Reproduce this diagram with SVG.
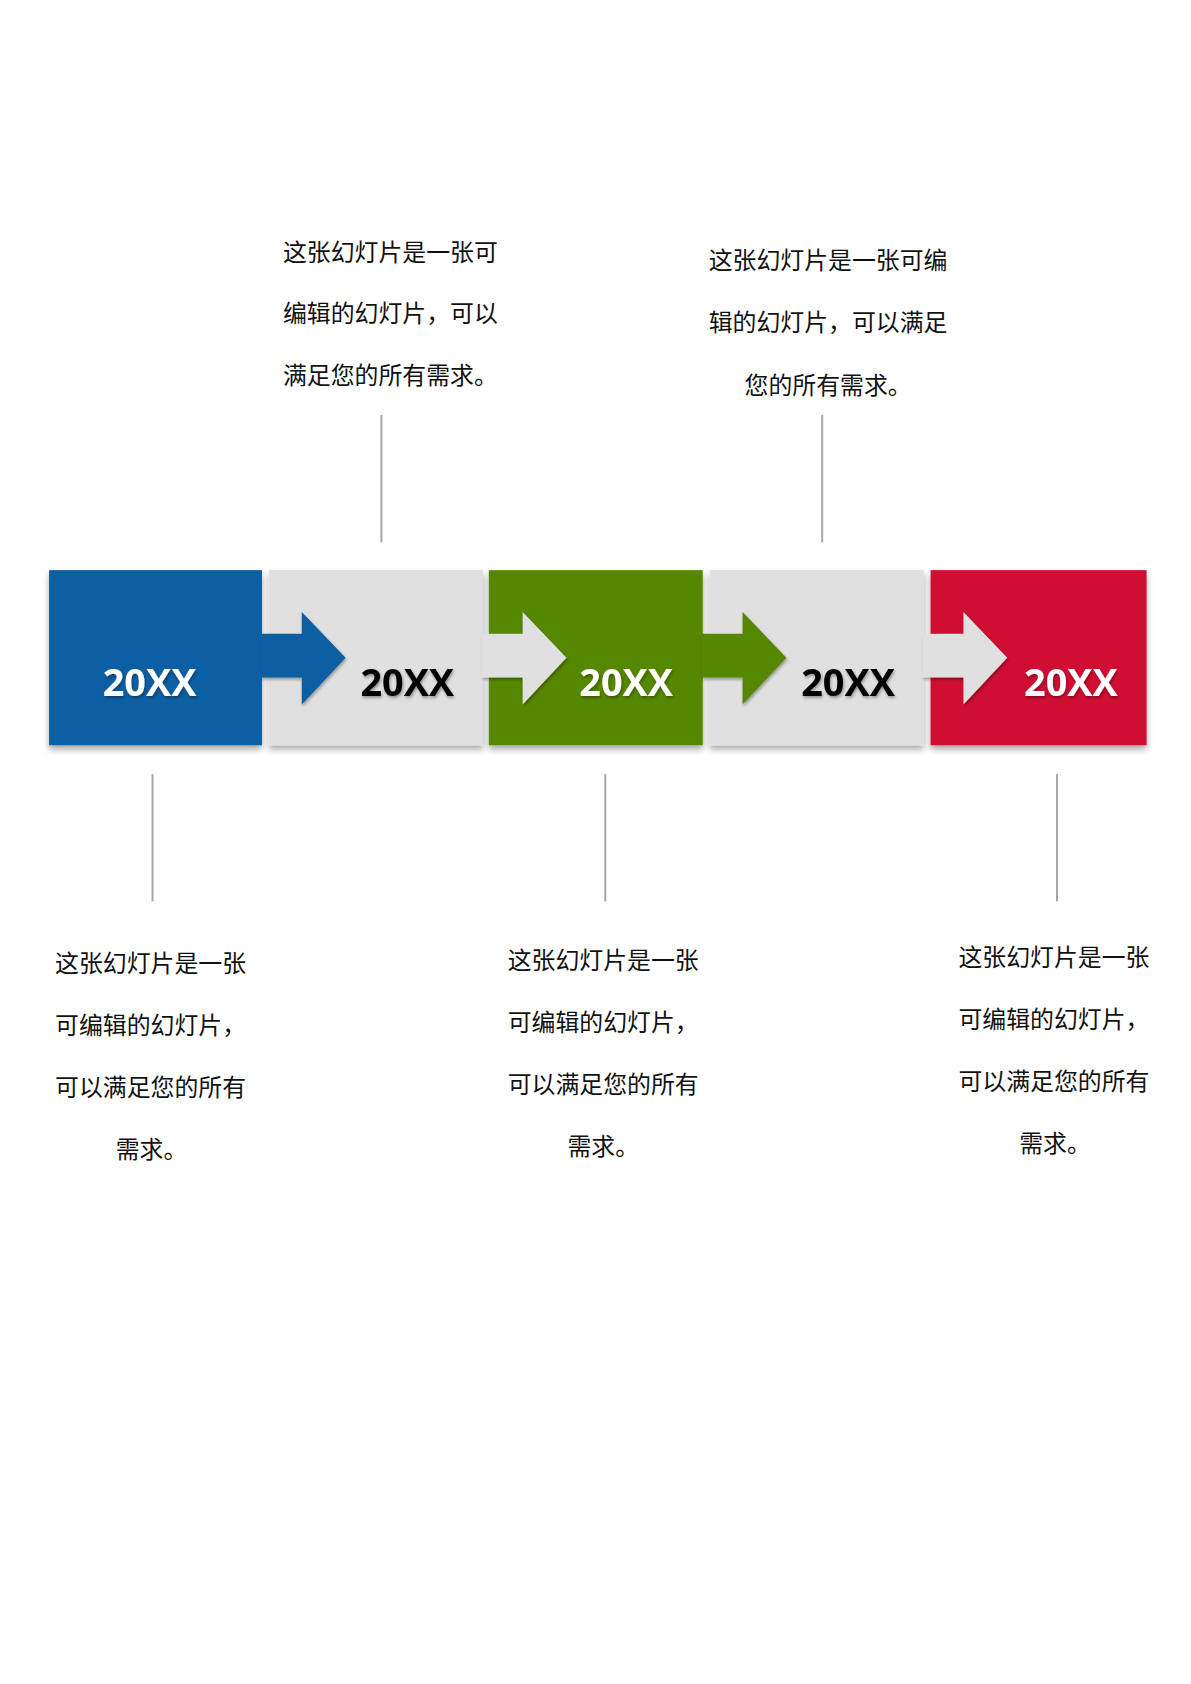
<svg xmlns="http://www.w3.org/2000/svg" width="1191" height="1684" viewBox="0 0 1191 1684">
<style>
.y{font-family:"Open Sans","Liberation Sans",sans-serif;font-weight:bold;font-size:38px;text-anchor:middle}
.t{font-family:"Noto Sans CJK SC","Liberation Sans",sans-serif;font-size:24px;fill:#111}
.ln{stroke:#a6a6a6;stroke-width:2}
</style>
<defs>
<filter id="sh" x="-10%" y="-10%" width="120%" height="130%"><feDropShadow dx="0" dy="4" stdDeviation="3" flood-color="#000" flood-opacity="0.35"/></filter>
<filter id="ts" x="-10%" y="-10%" width="120%" height="130%"><feDropShadow dx="1" dy="2" stdDeviation="1.5" flood-color="#000" flood-opacity="0.35"/></filter>
</defs>
<rect width="1191" height="1684" fill="#fff"/>
<g transform="translate(0.3,-2) scale(0.995)">
<g id="node1"><rect x="49" y="575" width="214" height="176" fill="#0a5ea3" filter="url(#sh)"/></g>
<g id="node2"><rect x="270" y="575" width="215" height="176" fill="#e0e0e0" filter="url(#sh)"/></g>
<g id="node3"><rect x="491" y="575" width="215" height="176" fill="#568700" filter="url(#sh)"/></g>
<g id="node4"><rect x="713" y="575" width="215" height="176" fill="#e0e0e0" filter="url(#sh)"/></g>
<g id="node5"><rect x="935" y="575" width="217" height="176" fill="#d00c30" filter="url(#sh)"/></g>
<g id="connectors">
<path d="M262 639H303V617L347 663L303 710V683H262Z" fill="#0a5ea3" filter="url(#ts)"/>
<path d="M484 639H525V617L569 663L525 710V683H484Z" fill="#e0e0e0" filter="url(#ts)"/>
<path d="M705 639H746V617L790 663L746 710V683H705Z" fill="#568700" filter="url(#ts)"/>
<path d="M927 639H968V617L1012 663L968 710V683H927Z" fill="#e0e0e0" filter="url(#ts)"/>
<line class="ln" x1="383" y1="419" x2="383" y2="547"/>
<line class="ln" x1="826" y1="419" x2="826" y2="547"/>
<line class="ln" x1="153" y1="780" x2="153" y2="908"/>
<line class="ln" x1="608" y1="780" x2="608" y2="908"/>
<line class="ln" x1="1062" y1="780" x2="1062" y2="908"/>
</g>
<g id="labels" filter="url(#ts)">
<text class="y" x="150" y="702" fill="#fff">20XX</text>
<text class="y" x="409" y="702" fill="#000">20XX</text>
<text class="y" x="629" y="702" fill="#fff">20XX</text>
<text class="y" x="852" y="702" fill="#000">20XX</text>
<text class="y" x="1076" y="702" fill="#fff">20XX</text>
</g>
<g id="text-top1">
<text class="t" x="284" y="264">这张幻灯片是一张可</text>
<text class="t" x="284" y="326">编辑的幻灯片，可以</text>
<text class="t" x="284" y="388">满足您的所有需求。</text>
</g>
<g id="text-top2">
<text class="t" x="712" y="272">这张幻灯片是一张可编</text>
<text class="t" x="712" y="335">辑的幻灯片，可以满足</text>
<text class="t" x="748" y="398">您的所有需求。</text>
</g>
<g id="text-bot1">
<text class="t" x="55" y="979">这张幻灯片是一张</text>
<text class="t" x="55" y="1041">可编辑的幻灯片，</text>
<text class="t" x="55" y="1104">可以满足您的所有</text>
<text class="t" x="116" y="1166">需求。</text>
</g>
<g id="text-bot2">
<text class="t" x="510" y="976">这张幻灯片是一张</text>
<text class="t" x="510" y="1038">可编辑的幻灯片，</text>
<text class="t" x="510" y="1101">可以满足您的所有</text>
<text class="t" x="570" y="1163">需求。</text>
</g>
<g id="text-bot3">
<text class="t" x="963" y="973">这张幻灯片是一张</text>
<text class="t" x="963" y="1035">可编辑的幻灯片，</text>
<text class="t" x="963" y="1097">可以满足您的所有</text>
<text class="t" x="1024" y="1160">需求。</text>
</g>
</g>
</svg>
